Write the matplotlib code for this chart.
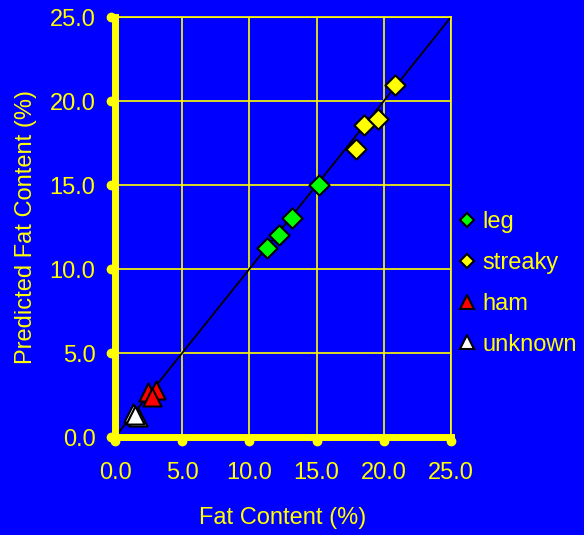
import matplotlib
matplotlib.use("Agg")
import matplotlib.pyplot as plt
import matplotlib.transforms as mtransforms
from matplotlib.lines import Line2D

plt.rcParams['font.family'] = ['Liberation Sans', 'DejaVu Sans']

BLUE = '#0000FF'
YEL = '#FFFF00'

leg_x = [11.3, 12.2, 13.2, 15.2]
leg_y = [11.25, 12.0, 13.05, 15.0]
streaky_x = [17.9, 18.5, 19.55, 20.85]
streaky_y = [17.15, 18.55, 18.95, 20.95]
ham_x = [2.45, 3.05, 2.75]
ham_y = [2.7, 2.8, 2.4]
unknown_x = [1.35, 1.7, 1.5]
unknown_y = [1.45, 1.2, 1.3]

ticks = [0, 5, 10, 15, 20, 25]
tick_labels = ['0.0', '5.0', '10.0', '15.0', '20.0', '25.0']

FS = 17

fig = plt.figure(figsize=(5.84, 5.35), dpi=100, facecolor=BLUE)
ax = fig.add_axes([115/584, (535-437)/535, 336/584, 420/535], facecolor=BLUE)
ax.set_xlim(0, 25)
ax.set_ylim(0, 25)

for t in ticks[1:]:
    ax.axvline(t, color=YEL, lw=1.2, zorder=1)
    ax.axhline(t, color=YEL, lw=1.2, zorder=1)

ax.plot([0, 25], [0, 25], color='black', lw=1.3, zorder=2)

ax.scatter(unknown_x, unknown_y, marker='^', s=170, c='white', edgecolors='black', linewidths=1.5, zorder=3)
ax.scatter(ham_x, ham_y, marker='^', s=170, c='red', edgecolors='black', linewidths=1.5, zorder=3)
ax.scatter(leg_x, leg_y, marker='D', s=105, c='#00FF00', edgecolors='black', linewidths=1.5, zorder=3)
ax.scatter(streaky_x, streaky_y, marker='D', s=105, c=YEL, edgecolors='black', linewidths=1.5, zorder=3)

for side in ['top', 'right']:
    ax.spines[side].set_color(YEL)
    ax.spines[side].set_linewidth(1.2)
for side in ['left', 'bottom']:
    ax.spines[side].set_color(YEL)
    ax.spines[side].set_linewidth(5)

# rounded tick stubs just outside the thick axis lines
down = ax.transData + mtransforms.ScaledTranslation(0, -4/100, fig.dpi_scale_trans)
left = ax.transData + mtransforms.ScaledTranslation(-4/100, 0, fig.dpi_scale_trans)
ax.plot(ticks, [0]*len(ticks), 'o', color=YEL, ms=6, clip_on=False, zorder=4, transform=down)
ax.plot([0]*len(ticks), ticks, 'o', color=YEL, ms=6, clip_on=False, zorder=4, transform=left)

ax.set_xticks(ticks)
ax.set_yticks(ticks)
ax.set_xticklabels(tick_labels)
ax.set_yticklabels(tick_labels)
ax.tick_params(length=0, labelcolor=YEL, labelsize=FS)
ax.tick_params(axis='x', pad=18)
ax.tick_params(axis='y', pad=14)
ax.set_xlabel('Fat Content (%)', color=YEL, fontsize=FS)
ax.set_ylabel('Predicted Fat Content (%)', color=YEL, fontsize=FS)
ax.xaxis.set_label_coords(0.5, (437-507)/420)
ax.yaxis.set_label_coords((37-115)/336, 0.5)

handles = [
    Line2D([], [], marker='D', ls='', ms=7, mfc='#00FF00', mec='black', mew=1.5),
    Line2D([], [], marker='D', ls='', ms=7, mfc=YEL, mec='black', mew=1.5),
    Line2D([], [], marker='^', ls='', ms=10, mfc='red', mec='black', mew=1.5),
    Line2D([], [], marker='^', ls='', ms=10, mfc='white', mec='black', mew=1.5),
]
leg = fig.legend(handles, ['leg', 'streaky', 'ham', 'unknown'], loc='upper left',
                 bbox_to_anchor=(460/584, 1 - 211/535), frameon=False,
                 fontsize=FS, labelcolor=YEL, handlelength=0.6, handletextpad=0.35,
                 labelspacing=0.8, borderpad=0, borderaxespad=0)

fig.savefig('out.png', dpi=100, facecolor=BLUE)
